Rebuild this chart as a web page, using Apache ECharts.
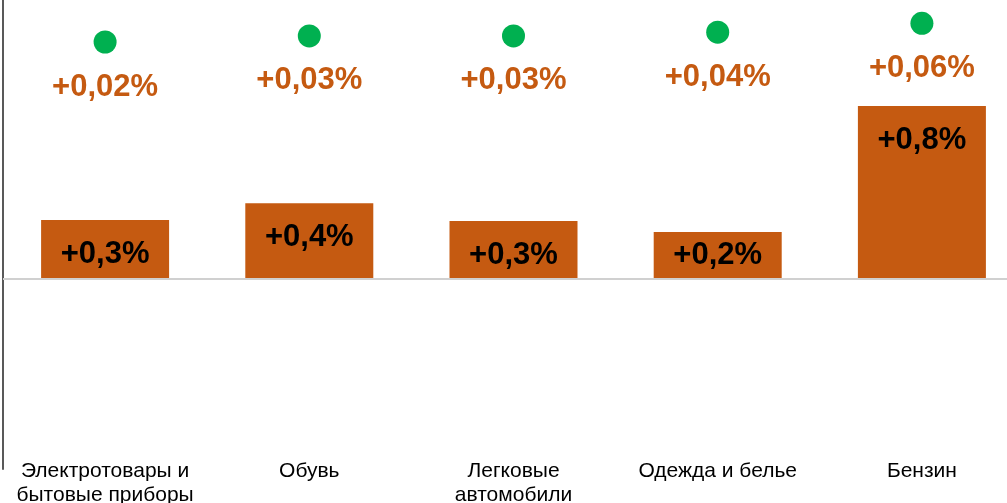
<!DOCTYPE html>
<html>
<head>
<meta charset="utf-8">
<script src="https://cdn.jsdelivr.net/npm/echarts@6/dist/echarts.min.js"></script>
<style>
  html, body { margin: 0; padding: 0; background: #fff; }
  #main { width: 1007px; height: 503px; }
</style>
</head>
<body>
<div id="main"></div>
<script>
  // категории и данные
  var categories = ['Электротовары и\nбытовые приборы', 'Обувь', 'Легковые\nавтомобили', 'Одежда и белье', 'Бензин'];
  var priceGrowth = [0.271, 0.349, 0.267, 0.216, 0.80];
  var priceLabels = ['+0,3%', '+0,4%', '+0,3%', '+0,2%', '+0,8%'];
  var contribution = [0.02, 0.033, 0.033, 0.041, 0.06];
  var contributionLabels = ['+0,02%', '+0,03%', '+0,03%', '+0,04%', '+0,06%'];

  var orange = '#C55A11';
  var green = '#00B050';
  var fontFamily = '"Liberation Sans", Arial, sans-serif';

  var barData = priceGrowth.map(function (v, i) {
    var item = { value: v };
    // короткий столбик - подпись по центру
    if (v < 0.25) {
      item.label = { position: 'inside' };
    }
    return item;
  });

  var myChart = echarts.init(document.getElementById('main'));
  var option = {
    animation: false,
    grid: { left: 3, top: 0, width: 1021, height: 469, outerBoundsMode: 'none' },
    xAxis: {
      type: 'category',
      data: categories,
      axisLine: { show: false },
      axisTick: { show: false },
      axisLabel: {
        margin: -10,
        interval: 0,
        fontFamily: fontFamily,
        fontSize: 21,
        lineHeight: 24,
        color: '#000'
      }
    },
    yAxis: [
      {
        type: 'value',
        min: -0.8836,
        max: 1.2917,
        axisLine: { show: true, lineStyle: { color: '#595959', width: 2 } },
        axisTick: { show: false },
        axisLabel: { show: false },
        splitLine: { show: false }
      },
      {
        type: 'value',
        min: -0.8934,
        max: 0.10984,
        show: false,
        splitLine: { show: false }
      }
    ],
    series: [
      {
        name: 'Рост цен',
        type: 'bar',
        data: barData,
        barWidth: 128,
        itemStyle: { color: orange },
        label: {
          show: true,
          position: 'insideTop',
          distance: 19,
          fontFamily: fontFamily,
          fontSize: 31,
          fontWeight: 'bold',
          color: '#000',
          formatter: function (p) { return priceLabels[p.dataIndex]; }
        },
        markLine: {
          silent: true,
          symbol: 'none',
          label: { show: false },
          lineStyle: { color: '#d0d0d0', width: 2, type: 'solid' },
          data: [{ yAxis: 0 }]
        }
      },
      {
        name: 'Вклад',
        type: 'scatter',
        yAxisIndex: 1,
        data: contribution,
        symbolSize: 23,
        itemStyle: { color: green, opacity: 1 },
        label: {
          show: true,
          position: 'bottom',
          distance: 18,
          fontFamily: fontFamily,
          fontSize: 31,
          fontWeight: 'bold',
          color: orange,
          opacity: 1,
          formatter: function (p) { return contributionLabels[p.dataIndex]; }
        }
      }
    ]
  };
  myChart.setOption(option);
</script>
</body>
</html>
